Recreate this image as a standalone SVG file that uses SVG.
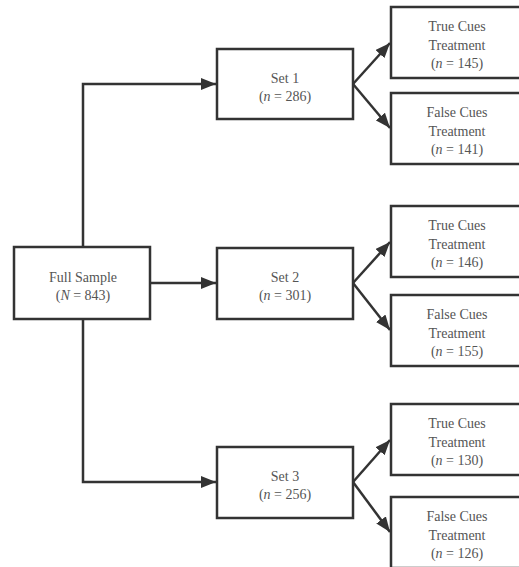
<svg xmlns="http://www.w3.org/2000/svg" width="519" height="567" viewBox="0 0 519 567">
<style>
.box{fill:#fff;stroke:#333;stroke-width:2.5}
.t{font-family:"Liberation Serif","Times New Roman",serif;font-size:14px;fill:#555;text-anchor:middle}
.c{fill:none;stroke:#333;stroke-width:2.5}
</style>
<defs>
<marker id="ah" markerWidth="16" markerHeight="12" refX="15" refY="6" orient="auto" markerUnits="userSpaceOnUse">
<path d="M0,0 L15,6 L0,12 Z" fill="#333"/>
</marker>
</defs>
<rect width="519" height="567" fill="#fff"/>
<g id="connectors">
<path class="c" d="M83,247 V84 H216" marker-end="url(#ah)"/>
<path class="c" d="M150,283 H216" marker-end="url(#ah)"/>
<path class="c" d="M83,319 V482 H216" marker-end="url(#ah)"/>
<path class="c" d="M353,84 L390,43" marker-end="url(#ah)"/>
<path class="c" d="M353,84 L390,128" marker-end="url(#ah)"/>
<path class="c" d="M353,283 L390,242" marker-end="url(#ah)"/>
<path class="c" d="M353,283 L390,330" marker-end="url(#ah)"/>
<path class="c" d="M353,482 L390,440" marker-end="url(#ah)"/>
<path class="c" d="M353,482 L390,532" marker-end="url(#ah)"/>
</g>
<g id="full">
<rect class="box" x="14" y="247" width="136" height="72"/>
<text class="t" x="83" y="282">Full Sample</text>
<text class="t" x="83" y="300">(<tspan font-style="italic">N</tspan> = 843)</text>
</g>
<g id="set1">
<rect class="box" x="217" y="49" width="136" height="70"/>
<text class="t" x="285" y="83">Set 1</text>
<text class="t" x="285" y="101">(<tspan font-style="italic">n</tspan> = 286)</text>
</g>
<g id="set2">
<rect class="box" x="217" y="248" width="136" height="71"/>
<text class="t" x="285" y="282">Set 2</text>
<text class="t" x="285" y="300">(<tspan font-style="italic">n</tspan> = 301)</text>
</g>
<g id="set3">
<rect class="box" x="217" y="447" width="136" height="71"/>
<text class="t" x="285" y="481">Set 3</text>
<text class="t" x="285" y="499">(<tspan font-style="italic">n</tspan> = 256)</text>
</g>
<g id="s1true">
<rect class="box" x="391" y="7" width="132" height="71"/>
<text class="t" x="457" y="31">True Cues</text>
<text class="t" x="457" y="50">Treatment</text>
<text class="t" x="457" y="68">(<tspan font-style="italic">n</tspan> = 145)</text>
</g>
<g id="s1false">
<rect class="box" x="391" y="93" width="132" height="71"/>
<text class="t" x="457" y="117">False Cues</text>
<text class="t" x="457" y="136">Treatment</text>
<text class="t" x="457" y="154">(<tspan font-style="italic">n</tspan> = 141)</text>
</g>
<g id="s2true">
<rect class="box" x="391" y="206" width="132" height="71"/>
<text class="t" x="457" y="230">True Cues</text>
<text class="t" x="457" y="249">Treatment</text>
<text class="t" x="457" y="267">(<tspan font-style="italic">n</tspan> = 146)</text>
</g>
<g id="s2false">
<rect class="box" x="391" y="295" width="132" height="71"/>
<text class="t" x="457" y="319">False Cues</text>
<text class="t" x="457" y="338">Treatment</text>
<text class="t" x="457" y="356">(<tspan font-style="italic">n</tspan> = 155)</text>
</g>
<g id="s3true">
<rect class="box" x="391" y="404" width="132" height="71"/>
<text class="t" x="457" y="428">True Cues</text>
<text class="t" x="457" y="447">Treatment</text>
<text class="t" x="457" y="465">(<tspan font-style="italic">n</tspan> = 130)</text>
</g>
<g id="s3false">
<rect class="box" x="391" y="497" width="132" height="71"/>
<text class="t" x="457" y="521">False Cues</text>
<text class="t" x="457" y="540">Treatment</text>
<text class="t" x="457" y="558">(<tspan font-style="italic">n</tspan> = 126)</text>
</g>
</svg>
